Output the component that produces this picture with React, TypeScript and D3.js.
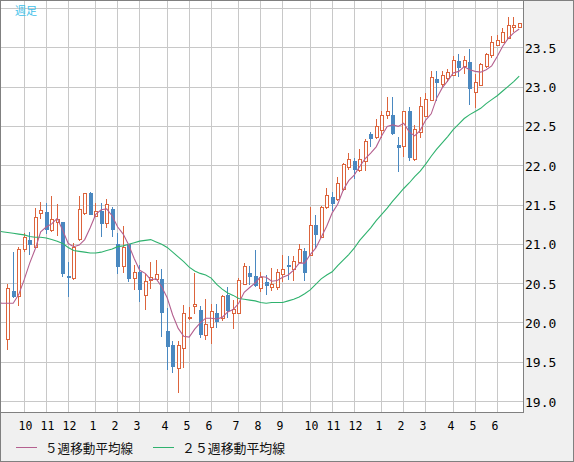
import React from 'react';
import * as d3 from 'd3';

// ---- data (weekly candles) ----
const opens = [19.79,20.41,20.34,20.94,21.05,20.97,21.40,21.41,21.18,21.29,21.28,20.60,20.57,21.07,21.40,21.65,21.36,21.42,21.27,21.45,21.01,20.72,21.00,20.57,20.65,20.35,20.55,20.56,20.56,19.90,19.72,19.42,19.68,20.06,20.21,20.16,19.84,19.95,20.12,20.06,20.36,20.12,20.13,20.50,20.64,20.60,20.44,20.52,20.46,20.46,20.62,20.74,20.69,20.77,20.91,20.87,21.25,21.09,21.48,21.60,21.57,21.70,21.98,22.06,21.94,22.06,22.40,22.36,22.45,22.64,22.65,22.26,22.25,22.69,22.08,22.43,22.63,22.84,23.10,23.04,23.12,23.16,23.33,23.27,23.32,22.94,23.03,23.27,23.41,23.54,23.58,23.63,23.76,23.77];
const highs = [20.49,20.90,20.97,21.14,21.16,21.46,21.54,21.53,21.62,21.51,21.29,20.77,21.02,21.61,21.65,21.66,21.53,21.53,21.57,21.48,21.14,21.23,21.00,20.74,20.74,20.62,20.77,20.80,20.69,20.19,19.77,19.77,20.23,20.20,20.64,20.21,20.30,20.24,20.24,20.35,20.46,20.29,20.57,20.76,20.72,20.93,20.65,20.61,20.70,20.69,20.86,20.85,20.85,21.00,20.95,21.48,21.37,21.49,21.71,21.66,21.85,22.04,22.16,22.10,22.21,22.34,22.43,22.59,22.69,22.87,22.88,22.37,22.69,22.75,22.52,22.87,22.92,23.20,23.20,23.20,23.23,23.40,23.42,23.39,23.49,23.17,23.31,23.44,23.65,23.66,23.75,23.89,23.89,23.82];
const lows = [19.67,20.33,20.23,20.91,20.88,20.97,21.34,21.14,21.17,21.12,20.60,20.34,20.56,21.05,21.39,21.39,21.36,21.10,21.22,21.10,20.64,20.65,20.53,20.43,20.28,20.18,20.45,20.56,19.83,19.41,19.37,19.12,19.44,20.05,20.12,19.82,19.79,19.75,19.95,20.04,20.07,19.93,20.13,20.49,20.49,20.47,20.41,20.37,20.42,20.43,20.53,20.56,20.54,20.77,20.54,20.86,20.95,21.09,21.46,21.44,21.56,21.69,21.96,21.84,21.93,21.94,22.25,22.35,22.36,22.61,22.40,21.93,22.12,22.07,22.07,22.36,22.63,22.84,22.84,23.01,23.08,23.16,23.14,23.18,22.78,22.75,23.03,23.25,23.38,23.54,23.58,23.63,23.71,23.77];
const closes = [20.44,20.34,20.94,21.09,21.00,21.35,21.44,21.20,21.32,21.32,20.64,20.58,20.97,21.45,21.65,21.39,21.42,21.27,21.51,21.20,20.72,20.97,20.57,20.65,20.43,20.53,20.58,20.62,20.14,19.71,19.45,19.72,20.12,20.08,20.24,19.86,19.99,20.15,20.03,20.34,20.17,20.18,20.55,20.73,20.60,20.48,20.59,20.48,20.49,20.65,20.69,20.72,20.79,20.94,20.65,21.25,21.13,21.47,21.63,21.53,21.78,22.02,22.09,21.96,22.09,22.31,22.35,22.51,22.64,22.70,22.41,22.24,22.69,22.11,22.47,22.76,22.85,23.13,23.07,23.16,23.19,23.35,23.25,23.34,22.99,23.06,23.30,23.42,23.58,23.60,23.70,23.79,23.79,23.82];

// moving averages, weeks -2 .. 93
const maStartWeek = -2;
const ma5 = [20.26,20.25,20.25,20.25,20.36,20.55,20.76,20.94,21.16,21.22,21.26,21.33,21.18,21.01,20.97,20.99,21.06,21.21,21.38,21.44,21.45,21.36,21.22,21.13,20.99,20.82,20.67,20.63,20.55,20.56,20.46,20.32,20.10,19.93,19.83,19.82,19.92,20.00,20.06,20.06,20.05,20.07,20.14,20.17,20.25,20.39,20.45,20.51,20.59,20.58,20.53,20.54,20.58,20.61,20.67,20.76,20.76,20.87,20.95,21.09,21.23,21.40,21.51,21.69,21.81,21.88,21.99,22.09,22.16,22.24,22.38,22.50,22.52,22.50,22.54,22.43,22.38,22.45,22.58,22.66,22.86,22.99,23.08,23.18,23.20,23.26,23.22,23.20,23.19,23.22,23.27,23.39,23.52,23.62,23.69,23.74];
const ma25 = [21.17,21.16,21.15,21.14,21.13,21.12,21.10,21.09,21.09,21.08,21.06,21.04,21.01,20.96,20.92,20.91,20.90,20.89,20.89,20.90,20.92,20.94,20.97,20.98,21.00,21.02,21.04,21.05,21.06,21.03,21.00,20.96,20.90,20.84,20.78,20.71,20.66,20.63,20.61,20.57,20.49,20.43,20.38,20.35,20.31,20.30,20.29,20.28,20.26,20.25,20.26,20.26,20.26,20.28,20.30,20.33,20.37,20.42,20.49,20.56,20.61,20.65,20.73,20.80,20.87,20.95,21.05,21.13,21.21,21.30,21.38,21.46,21.55,21.63,21.71,21.78,21.86,21.93,22.02,22.12,22.21,22.29,22.37,22.46,22.53,22.60,22.65,22.69,22.73,22.79,22.84,22.89,22.95,23.01,23.07,23.14];

const monthWeeks = [3,7,11,16,20,24,29,33,37,42,46,50,55,59,63,68,72,76,81,85,89];
const monthLabels = ['10','11','12','1','2','3','4','5','6','7','8','9','10','11','12','1','2','3','4','5','6'];
const yGridValues = [19.0,19.5,20.0,20.5,21.0,21.5,22.0,22.5,23.0,23.5,24.0];
const yTickLabels = ['19.0','19.5','20.0','20.5','21.0','21.5','22.0','22.5','23.0','23.5'];

const title = '週足';
const legendLabels = ['５週移動平均線', '２５週移動平均線'];

const UP = '#dc643c';
const DOWN = '#4a88c0';
const C5 = '#b4608f';
const C25 = '#2fb26e';
const GRID = '#c8c8c8';
const FRAME = '#808080';

export default function App() {
  const W = 574, H = 462;
  const plotR = 523, plotB = 412;
  const x = d3.scaleLinear().domain([0, closes.length - 1]).range([7.7, 519.2]);
  const y = d3.scaleLinear().domain([19, 24]).range([401.5, 8.5]);

  const lineGen = d3.line<number>()
    .x((_, i) => x(i + maStartWeek))
    .y((v) => y(v));

  const numFont = '"DejaVu Sans Mono", monospace';
  const cjkFont = '"Noto Sans CJK JP", "Noto Sans", sans-serif';

  return (
    <svg width={W} height={H} viewBox={`0 0 ${W} ${H}`}
      style={{ position: 'absolute', left: 0, top: 0, display: 'block' }}>
      <defs>
        <clipPath id="plotClip">
          <rect x={1} y={1} width={plotR - 1} height={plotB - 1} />
        </clipPath>
      </defs>
      <rect x={0.5} y={0.5} width={W - 1} height={H - 1} fill="#f0f0f0" stroke={FRAME} />
      <rect x={1} y={1} width={plotR - 1} height={plotB - 1} fill="#ffffff" />

      <g shapeRendering="crispEdges">
        {yGridValues.map((v) => {
          const yy = Math.floor(y(v)) + 0.5;
          return <line key={'h' + v} x1={1} x2={plotR} y1={yy} y2={yy} stroke={GRID} />;
        })}
        {monthWeeks.map((w) => {
          const xx = Math.floor(x(w)) + 0.5;
          return <line key={'v' + w} x1={xx} x2={xx} y1={1} y2={plotB} stroke={GRID} />;
        })}
      </g>

      <g clipPath="url(#plotClip)">
        <g shapeRendering="crispEdges">
          {closes.map((c, i) => {
            const o = opens[i];
            const up = c >= o;
            const col = Math.floor(x(i));
            const yh = Math.round(y(highs[i]));
            const yl = Math.round(y(lows[i]));
            const top = Math.round(y(Math.max(o, c)));
            const bot = Math.round(y(Math.min(o, c)));
            const color = up ? UP : DOWN;
            return (
              <g key={i}>
                <rect x={col} y={yh} width={1} height={Math.max(yl - yh + 1, 1)} fill={color} />
                {up ? (
                  <rect x={col - 0.5} y={top + 0.5} width={3} height={Math.max(bot - top, 0)}
                    fill="#ffffff" stroke={color} strokeWidth={1} />
                ) : (
                  <rect x={col - 1} y={top} width={4} height={Math.max(bot - top + 1, 1)} fill={color} />
                )}
              </g>
            );
          })}
        </g>
        <path d={lineGen(ma25) || ''} fill="none" stroke={C25} strokeWidth={1.1} />
        <path d={lineGen(ma5) || ''} fill="none" stroke={C5} strokeWidth={1.1} />
      </g>

      <g shapeRendering="crispEdges">
        <line x1={plotR + 0.5} x2={plotR + 0.5} y1={0} y2={plotB + 0.5} stroke={FRAME} />
        <line x1={0} x2={plotR + 0.5} y1={plotB + 0.5} y2={plotB + 0.5} stroke={FRAME} />
      </g>

      <text x={15} y={14.5} fontFamily={cjkFont} fontSize={11} fill="#3fbfea">{title}</text>

      {yTickLabels.map((t, k) => (
        <text key={t} x={525} y={y(yGridValues[k]) + 5} fontFamily={numFont} fontSize={13} fill="#000">{t}</text>
      ))}

      {monthWeeks.map((w, k) => (
        <text key={'m' + k} x={Math.floor(x(w)) - 5.5} y={430} fontFamily={numFont} fontSize={11.5} fill="#000">
          {monthLabels[k]}
        </text>
      ))}

      <line x1={16} x2={37} y1={447.5} y2={447.5} stroke={C5} strokeWidth={1} shapeRendering="crispEdges" />
      <text x={45} y={452.5} fontFamily={cjkFont} fontSize={12.6} fill="#111">{legendLabels[0]}</text>
      <line x1={153} x2={174} y1={447.5} y2={447.5} stroke={C25} strokeWidth={1} shapeRendering="crispEdges" />
      <text x={182} y={452.5} fontFamily={cjkFont} fontSize={12.9} fill="#111">{legendLabels[1]}</text>
    </svg>
  );
}
